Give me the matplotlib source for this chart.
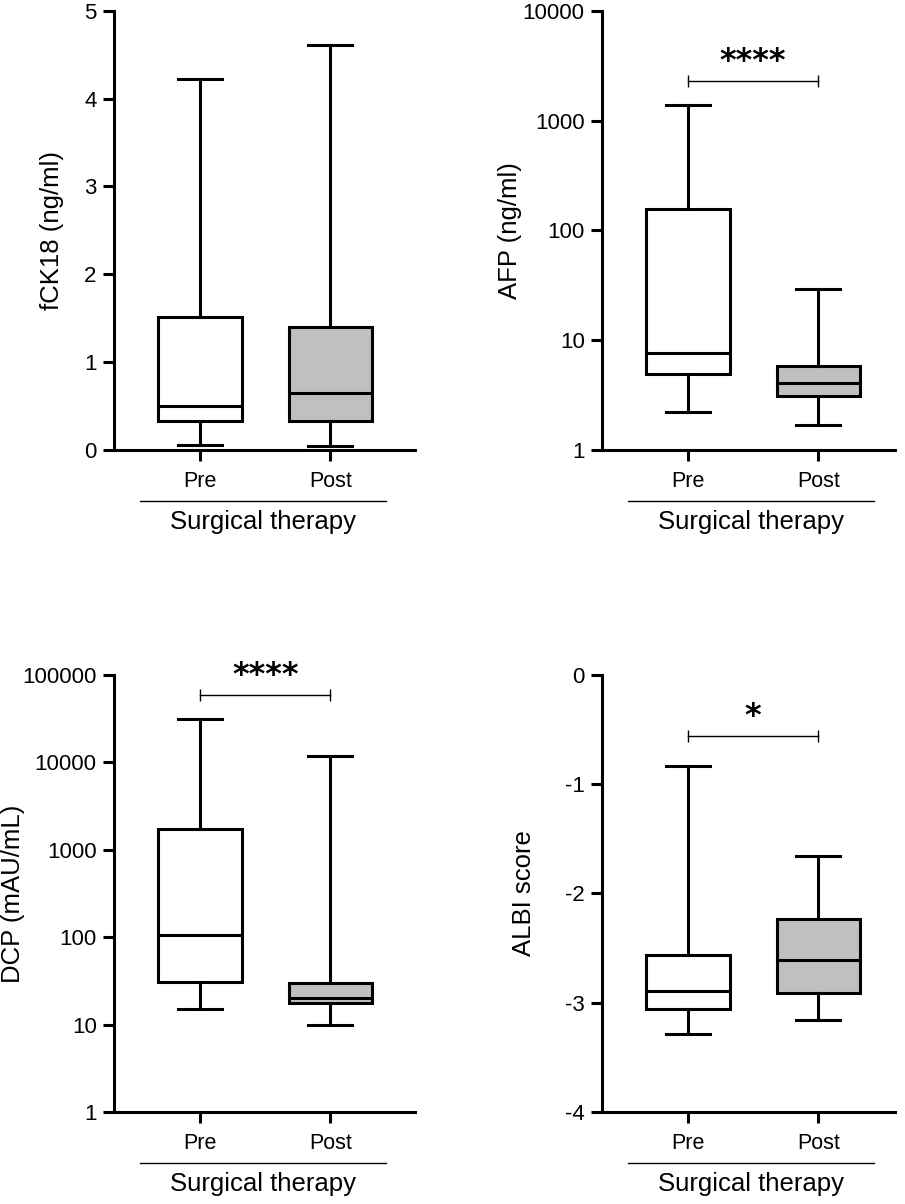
import matplotlib
matplotlib.use("Agg")
import matplotlib.pyplot as plt
from matplotlib.ticker import NullLocator
import matplotlib.transforms as mtransforms

plt.rcParams['font.family'] = ['Liberation Sans', 'DejaVu Sans']

# group names
groups = ["Pre", "Post"]
group_title = "Surgical therapy"

# box stats per panel: [min, q1, median, q3, max] for Pre and Post
fck18_pre = [0.06, 0.33, 0.50, 1.51, 4.22]
fck18_post = [0.05, 0.33, 0.65, 1.40, 4.61]

afp_pre = [2.23, 4.9, 7.7, 158, 1400]
afp_post = [1.69, 3.08, 4.07, 5.84, 29]

dcp_pre = [14.9, 30.9, 105, 1740, 31600]
dcp_post = [10.0, 17.5, 20.2, 29.7, 11900]

albi_pre = [-3.29, -3.06, -2.89, -2.56, -0.83]
albi_post = [-3.16, -2.91, -2.61, -2.23, -1.66]

# y tick values and labels
fck18_ticks = [0, 1, 2, 3, 4, 5]
fck18_labels = ["0", "1", "2", "3", "4", "5"]
afp_ticks = [1, 10, 100, 1000, 10000]
afp_labels = ["1", "10", "100", "1000", "10000"]
dcp_ticks = [1, 10, 100, 1000, 10000, 100000]
dcp_labels = ["1", "10", "100", "1000", "10000", "100000"]
albi_ticks = [-4, -3, -2, -1, 0]
albi_labels = ["-4", "-3", "-2", "-1", "0"]

# significance marks (text, bracket height); None = no bracket
afp_sig = ("****", 2300)
dcp_sig = ("****", 58400)
albi_sig = ("*", -0.557)

box_colors = ["white", "#c0c0c0"]
LW = 2.2


def make_stats(values):
    lo, q1, med, q3, hi = values
    return dict(whislo=lo, q1=q1, med=med, q3=q3, whishi=hi, fliers=[])


def draw_panel(ax, pre, post, ylabel, ticks, labels, log, sig, xlim, label_x):
    if log:
        ax.set_yscale('log')
    stats = [make_stats(pre), make_stats(post)]
    bp = ax.bxp(stats, positions=[0, 1], widths=0.64, capwidths=0.34,
                patch_artist=True, showfliers=False,
                boxprops=dict(linewidth=LW, edgecolor='black'),
                medianprops=dict(linewidth=LW, color='black'),
                whiskerprops=dict(linewidth=LW, color='black'),
                capprops=dict(linewidth=LW, color='black'))
    for patch, c in zip(bp['boxes'], box_colors):
        patch.set_facecolor(c)

    ax.set_xlim(*xlim)
    ax.set_ylim(ticks[0], ticks[-1])
    ax.set_yticks(ticks)
    ax.set_yticklabels(labels)
    ax.yaxis.set_minor_locator(NullLocator())
    ax.set_xticks([0, 1])
    ax.set_xticklabels(groups, fontsize=15.5)

    for s in ['top', 'right']:
        ax.spines[s].set_visible(False)
    for s in ['left', 'bottom']:
        ax.spines[s].set_linewidth(LW)
    ax.tick_params(axis='y', length=8, width=LW, pad=4.5, labelsize=16)
    ax.tick_params(axis='x', length=8, width=LW, pad=7)

    ax.set_ylabel(ylabel, fontsize=18.5)
    ax.yaxis.set_label_coords(label_x, 0.5)

    # group line and title under the x labels
    trans = mtransforms.blended_transform_factory(ax.transData, ax.transAxes)
    ax.plot([-0.46, 1.43], [-0.117, -0.117], color='black', lw=1.0,
            transform=trans, clip_on=False)
    ax.text(0.485, -0.137, group_title, transform=trans, ha='center',
            va='top', fontsize=18.5)

    if sig is not None:
        text, yb = sig
        ax.plot([0, 1], [yb, yb], color='black', lw=1.0, marker='|',
                markersize=9, markeredgewidth=1.0, clip_on=False)
        ax.annotate(text, xy=(0.5, yb), xytext=(0, 8), textcoords='offset points',
                    ha='center', va='baseline', fontsize=23, fontweight='bold',
                    family='DejaVu Sans')


fig = plt.figure(figsize=(9.05, 12.04), dpi=100)

ax1 = fig.add_axes([0.126, 0.6262, 0.3326, 0.3649])
ax2 = fig.add_axes([0.6652, 0.6262, 0.3238, 0.3649])
ax3 = fig.add_axes([0.126, 0.0764, 0.3326, 0.3630])
ax4 = fig.add_axes([0.6652, 0.0764, 0.3238, 0.3630])

draw_panel(ax1, fck18_pre, fck18_post, "fCK18 (ng/ml)", fck18_ticks, fck18_labels,
           False, None, (-0.66, 1.65), -0.165)
draw_panel(ax2, afp_pre, afp_post, "AFP (ng/ml)", afp_ticks, afp_labels,
           True, afp_sig, (-0.66, 1.59), -0.274)
draw_panel(ax3, dcp_pre, dcp_post, "DCP (mAU/mL)", dcp_ticks, dcp_labels,
           True, dcp_sig, (-0.66, 1.65), -0.296)
draw_panel(ax4, albi_pre, albi_post, "ALBI score", albi_ticks, albi_labels,
           False, albi_sig, (-0.66, 1.59), -0.224)

fig.savefig("out.png", dpi=100)
